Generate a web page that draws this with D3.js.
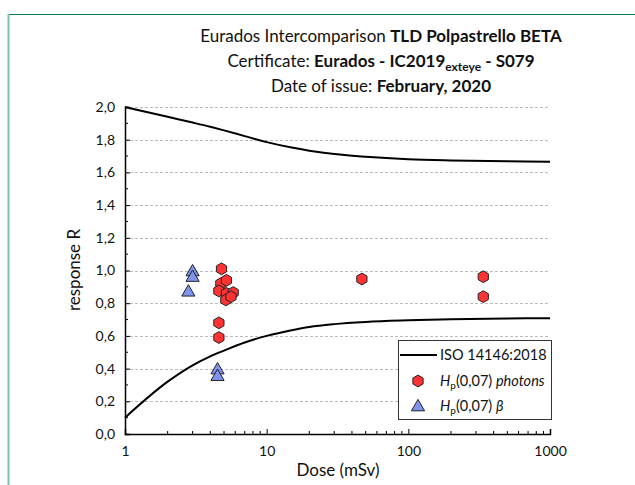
<!DOCTYPE html>
<html>
<head>
<meta charset="utf-8">
<script src="https://cdn.jsdelivr.net/npm/d3@7"></script>
<style>
  body { margin: 0; background: #fff; }
  svg text { font-family: Lato, "Open Sans", sans-serif; fill: #111; }
</style>
</head>
<body>
<svg id="chart" width="635" height="485"></svg>
<script>
// ISO 14146:2018 trumpet limits
const isoDose = [1, 2, 3, 4, 5, 7, 10, 15, 20, 30, 50, 100, 200, 500, 1000];
const isoUpper = [2.0, 1.94, 1.905, 1.879, 1.857, 1.822, 1.785, 1.752, 1.733, 1.712, 1.695, 1.68, 1.673, 1.668, 1.665];
const isoLower = [0.10, 0.32, 0.42, 0.475, 0.51, 0.56, 0.60, 0.635, 0.655, 0.672, 0.685, 0.695, 0.702, 0.707, 0.708];

// Hp(0,07) photons
const photonDose = [4.8, 4.6, 4.6, 4.75, 5.2, 4.6, 5.2, 5.8, 5.15, 5.6, 47, 338, 338];
const photonR = [1.01, 0.68, 0.59, 0.92, 0.94, 0.875, 0.86, 0.865, 0.82, 0.84, 0.948, 0.962, 0.84];

// Hp(0,07) beta
const betaDose = [3.0, 3.0, 2.8, 4.5, 4.5];
const betaR = [1.0, 0.966, 0.876, 0.40, 0.36];

const xTicks = [1, 10, 100, 1000];
const yTicks = [0, 0.2, 0.4, 0.6, 0.8, 1.0, 1.2, 1.4, 1.6, 1.8, 2.0];

const svg = d3.select('#chart');
const fmt = d => d3.format('.1f')(d).replace('.', ',');

// page frame
svg.append('line').attr('x1', 8).attr('x2', 635).attr('y1', 14.5).attr('y2', 14.5)
    .attr('stroke', '#00804f').attr('stroke-width', 1);
svg.append('line').attr('x1', 8.5).attr('x2', 8.5).attr('y1', 14).attr('y2', 485)
    .attr('stroke', '#80c0a0').attr('stroke-width', 2);

const x = d3.scaleLog().domain([1, 1000]).range([125, 550]);
const y = d3.scaleLinear().domain([0, 2]).range([434, 107]);

// grid
svg.append('g').selectAll('line').data(yTicks.slice(1)).join('line')
    .attr('x1', x(1)).attr('x2', x(1000))
    .attr('y1', d => Math.round(y(d)) + 0.5).attr('y2', d => Math.round(y(d)) + 0.5)
    .attr('stroke', '#bbb').attr('stroke-dasharray', '3,2');

// title
const t1 = svg.append('text').attr('text-anchor', 'middle').attr('x', 381).attr('y', 42).style('font-size', '17px');
t1.append('tspan').text('Eurados Intercomparison ');
t1.append('tspan').style('font-weight', 'bold').text('TLD Polpastrello BETA');
const t2 = svg.append('text').attr('text-anchor', 'middle').attr('x', 381).attr('y', 67).style('font-size', '17px');
t2.append('tspan').text('Certificate: ');
t2.append('tspan').style('font-weight', 'bold').text('Eurados - IC2019');
t2.append('tspan').style('font-weight', 'bold').style('font-size', '12px').attr('dy', 4).text('exteye');
t2.append('tspan').style('font-weight', 'bold').attr('dy', -4).text(' - S079');
const t3 = svg.append('text').attr('text-anchor', 'middle').attr('x', 381).attr('y', 92).style('font-size', '17px');
t3.append('tspan').text('Date of issue: ');
t3.append('tspan').style('font-weight', 'bold').text('February, 2020');

// axes
const minorX = [];
[1, 10, 100].forEach(b => { for (let k = 2; k <= 9; k++) minorX.push(b * k); });
const xAxis = svg.append('g').attr('transform', 'translate(0,434)');
xAxis.call(d3.axisBottom(x).tickValues(xTicks).tickSize(-5).tickPadding(12).tickFormat(d3.format('d')));
xAxis.append('g').selectAll('line').data(minorX).join('line')
    .attr('x1', d => x(d)).attr('x2', d => x(d)).attr('y1', 0).attr('y2', -3)
    .attr('stroke', '#000');

const minorY = d3.range(0.1, 2, 0.2);
const yAxis = svg.append('g').attr('transform', 'translate(125,0)');
yAxis.call(d3.axisLeft(y).tickValues(yTicks).tickSize(-5).tickPadding(10).tickFormat(fmt));
yAxis.append('g').selectAll('line').data(minorY).join('line')
    .attr('x1', 0).attr('x2', 3).attr('y1', d => y(d)).attr('y2', d => y(d))
    .attr('stroke', '#000');

[xAxis, yAxis].forEach(a => {
  a.select('.domain').attr('stroke', '#000').attr('stroke-width', 1.5);
  a.selectAll('.tick line').attr('stroke', '#000');
  a.selectAll('.tick text').style('font-size', '14px').style('font-family', 'Lato, sans-serif').attr('fill', '#222');
});

svg.append('text').attr('x', 338).attr('y', 476).attr('text-anchor', 'middle')
    .style('font-size', '17px').text('Dose (mSv)');
svg.append('text').attr('transform', 'translate(80,270) rotate(-90)').attr('text-anchor', 'middle')
    .style('font-size', '17px').text('response R');

// ISO curves
const line = d3.line().curve(d3.curveMonotoneX);
[isoUpper, isoLower].forEach(vals => {
  svg.append('path')
      .attr('d', line(isoDose.map((d, i) => [x(d), y(vals[i])])))
      .attr('fill', 'none').attr('stroke', '#000').attr('stroke-width', 2);
});

// markers
const hexagon = {
  draw(ctx, size) {
    const r = Math.sqrt(size / (1.5 * Math.sqrt(3)));
    for (let i = 0; i < 6; i++) {
      const a = Math.PI / 3 * i - Math.PI / 2;
      const px = r * Math.cos(a), py = r * Math.sin(a);
      if (i === 0) ctx.moveTo(px, py); else ctx.lineTo(px, py);
    }
    ctx.closePath();
  }
};
const hexPath = d3.symbol().type(hexagon).size(90);
const triPath = d3.symbol().type(d3.symbolTriangle).size(75);

svg.append('g').selectAll('path').data(photonDose).join('path')
    .attr('transform', (d, i) => `translate(${x(d)},${y(photonR[i])})`)
    .attr('d', hexPath).attr('fill', '#ff3333').attr('stroke', '#222').attr('stroke-width', 1);

svg.append('g').selectAll('path').data(betaDose).join('path')
    .attr('transform', (d, i) => `translate(${x(d)},${y(betaR[i]) + 1.5})`)
    .attr('d', triPath).attr('fill', '#8093f1').attr('stroke', '#222').attr('stroke-width', 1);

// legend
const lg = svg.append('g');
lg.append('rect').attr('x', 398.5).attr('y', 340.5).attr('width', 153).attr('height', 79)
    .attr('fill', '#fff').attr('stroke', '#333');
lg.append('line').attr('x1', 400).attr('x2', 437).attr('y1', 355).attr('y2', 355)
    .attr('stroke', '#000').attr('stroke-width', 2);
lg.append('path').attr('transform', 'translate(418,381)').attr('d', hexPath)
    .attr('fill', '#ff3333').attr('stroke', '#222');
lg.append('path').attr('transform', 'translate(418,407)').attr('d', triPath)
    .attr('fill', '#8093f1').attr('stroke', '#222');
lg.append('text').attr('x', 440).attr('y', 360).style('font-size', '14.5px').text('ISO 14146:2018');
const l2 = lg.append('text').attr('x', 440).attr('y', 386).style('font-size', '14.5px');
l2.append('tspan').style('font-style', 'italic').text('H');
l2.append('tspan').style('font-size', '10px').attr('dy', 3).text('p');
l2.append('tspan').attr('dy', -3).text('(0,07) ');
l2.append('tspan').style('font-style', 'italic').text('photons');
const l3 = lg.append('text').attr('x', 440).attr('y', 411).style('font-size', '14.5px');
l3.append('tspan').style('font-style', 'italic').text('H');
l3.append('tspan').style('font-size', '10px').attr('dy', 3).text('p');
l3.append('tspan').attr('dy', -3).text('(0,07) ');
l3.append('tspan').style('font-style', 'italic').text('β');
</script>
</body>
</html>
